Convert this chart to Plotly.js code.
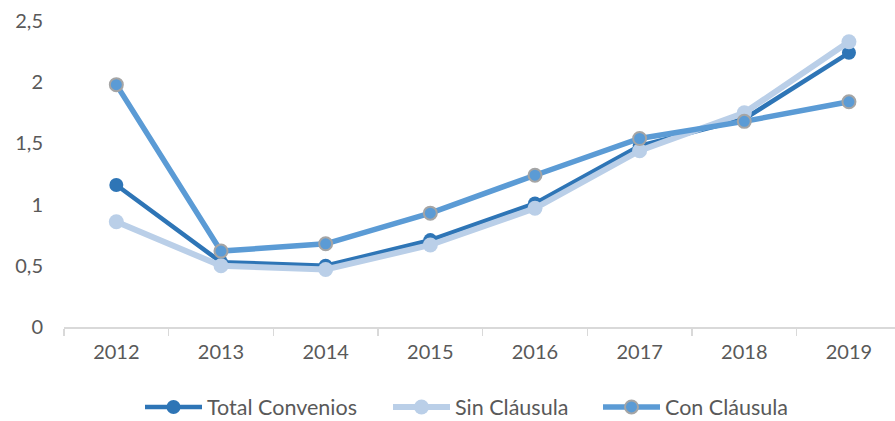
<!DOCTYPE html>
<html>
<head>
<meta charset="utf-8">
<script src="https://cdn.plot.ly/plotly-3.0.1.min.js"></script>
<style>html,body{margin:0;padding:0;background:#fff;}#chart{width:895px;height:421px;}</style>
</head>
<body>
<div id="chart"></div>
<script>
const years = ["2012","2013","2014","2015","2016","2017","2018","2019"];
const totalConvenios = [1.16, 0.53, 0.50, 0.71, 1.01, 1.48, 1.70, 2.24];
const sinClausula   = [0.86, 0.50, 0.47, 0.67, 0.97, 1.44, 1.75, 2.33];
const conClausula   = [1.98, 0.62, 0.68, 0.93, 1.24, 1.54, 1.68, 1.84];
const yTicks = [0, 0.5, 1, 1.5, 2, 2.5];

const FONT = "Lato, 'Open Sans', sans-serif";
const traces = [
  {x: years, y: totalConvenios, name: "Total Convenios", type: "scatter", mode: "lines+markers", legend: "legend",
   line: {color: "#2E75B6", width: 4.5}, marker: {color: "#2E75B6", size: 14}, cliponaxis: false},
  {x: years, y: sinClausula, name: "Sin Cláusula", type: "scatter", mode: "lines+markers", legend: "legend2",
   line: {color: "#BACFE8", width: 6}, marker: {color: "#BACFE8", size: 15}, cliponaxis: false},
  {x: years, y: conClausula, name: "Con Cláusula", type: "scatter", mode: "lines+markers", legend: "legend3",
   line: {color: "#5B9BD5", width: 5.5}, marker: {color: "#5B9BD5", size: 13, line: {color: "#A5A5A5", width: 2}}, cliponaxis: false}
];
function leg(px) {
  return {orientation: "h", x: (px - 64) / 831, xanchor: "left", y: -(407 - 327) / 306, yanchor: "middle",
    font: {family: FONT, size: 21.5, color: "#595959"}, itemwidth: 57, bgcolor: "rgba(0,0,0,0)"};
}
const layout = {
  width: 895, height: 421,
  margin: {l: 64, r: 0, t: 21, b: 94, autoexpand: false},
  paper_bgcolor: "#fff", plot_bgcolor: "#fff",
  separators: ", ",
  font: {family: FONT, color: "#595959", size: 20},
  showlegend: true,
  legend: leg(140), legend2: leg(388), legend3: leg(598),
  xaxis: {type: "category", range: [-0.5, 7.44], showgrid: false, zeroline: false,
    showline: true, linecolor: "#D9D9D9", linewidth: 1.5,
    ticks: "outside", tickson: "boundaries", ticklen: 7, tickcolor: "#D9D9D9", tickwidth: 1.5,
    tickfont: {family: FONT, size: 20, color: "#595959"}, ticklabelstandoff: 6, fixedrange: true},
  yaxis: {range: [0, 2.5], tickvals: yTicks, showgrid: false, zeroline: false, showline: false,
    ticks: "", tickfont: {family: FONT, size: 20, color: "#595959"}, ticklabelstandoff: 20, fixedrange: true}
};
Plotly.newPlot("chart", traces, layout, {displayModeBar: false, staticPlot: true});
</script>
</body>
</html>
